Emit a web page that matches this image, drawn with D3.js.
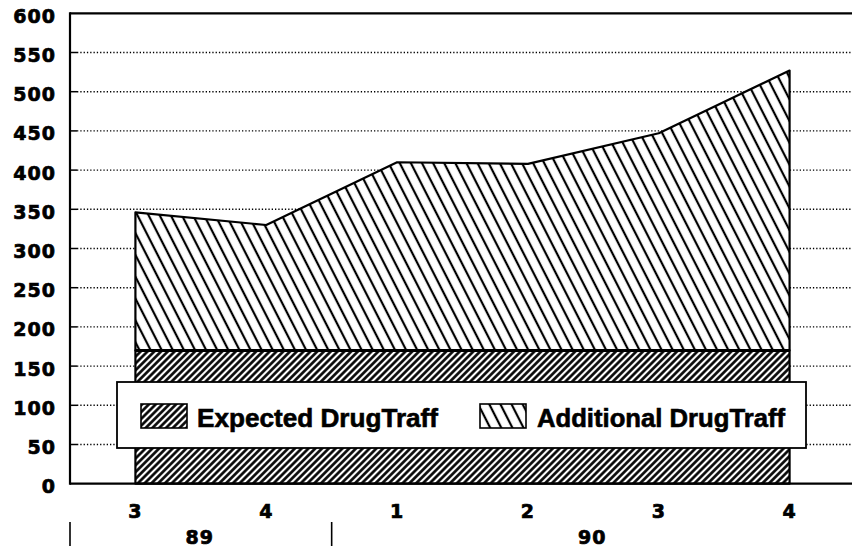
<!DOCTYPE html>
<html>
<head>
<meta charset="utf-8">
<script src="https://cdn.jsdelivr.net/npm/d3@7"></script>
<style>
body{margin:0;background:#fff;}
svg{display:block;}
.tick text{font-family:"DejaVu Sans",sans-serif;font-weight:bold;font-size:19px;fill:#000;letter-spacing:1px;stroke:#000;stroke-width:0.7px;}
.leg text{font-family:"Liberation Sans",Arial,sans-serif;font-weight:bold;font-size:25px;fill:#000;stroke:#000;stroke-width:0.6px;}
</style>
</head>
<body>
<script>
// data
var quarters=["3","4","1","2","3","4"];
var years=["89","90"];
var yearSpan=[2,4];
var expected=[170,170,170,170,170,170];
var additional=[176,160,240,238,277,357];
var yTicks=d3.range(0,601,50);
var seriesNames=["Expected DrugTraff","Additional DrugTraff"];

var width=852,height=547;
var mLeft=70,mRight=855,mTop=13.3,mBottom=483.7;

var svg=d3.select("body").append("svg")
    .attr("width",width)
    .attr("height",height);

var defs=svg.append("defs");
function hatch(id,angle,gap,sw){
    var p=defs.append("pattern")
        .attr("id",id)
        .attr("patternUnits","userSpaceOnUse")
        .attr("width",gap).attr("height",gap)
        .attr("patternTransform","rotate("+angle+")");
    p.append("rect").attr("width",gap).attr("height",gap).attr("fill","#fff");
    p.append("line").attr("x1",gap/2).attr("x2",gap/2).attr("y1",-1).attr("y2",gap+1)
        .attr("stroke","#000").attr("stroke-width",sw);
}
hatch("hExp",45,4.8,2.6);
hatch("hAdd",-27,9.9,2.2);

var rows=quarters.map(function(q,i){return {i:i,exp:expected[i],add:additional[i]};});
var keys=["exp","add"];
var stack=d3.stack().keys(keys)(rows);

var x=d3.scaleBand().domain(d3.range(quarters.length)).range([mLeft,mRight]).padding(0);
var xc=function(i){return x(i)+x.bandwidth()/2;};
var y=d3.scaleLinear().domain([0,600]).range([mBottom,mTop]);

// grid
var inner=yTicks.filter(function(d){return d>0&&d<600;});
var grid=svg.append("g");
grid.selectAll("line.dot").data(inner)
  .enter().append("line")
    .attr("x1",mLeft+7).attr("x2",width)
    .attr("y1",function(d){return y(d);}).attr("y2",function(d){return y(d);})
    .attr("stroke","#000").attr("stroke-width",1.4).attr("stroke-dasharray","1.3,2");
grid.selectAll("line.tk").data(inner)
  .enter().append("line")
    .attr("x1",mLeft).attr("x2",mLeft+7)
    .attr("y1",function(d){return y(d);}).attr("y2",function(d){return y(d);})
    .attr("stroke","#000").attr("stroke-width",1.5);

// areas
var area=d3.area()
    .x(function(d){return xc(d.data.i);})
    .y0(function(d){return y(d[0]);})
    .y1(function(d){return y(d[1]);});
var fills=["url(#hExp)","url(#hAdd)"];
svg.selectAll("path.layer").data(stack).enter().append("path")
    .attr("d",area)
    .attr("fill",function(d,i){return fills[i];})
    .attr("stroke","#000")
    .attr("stroke-width",2.2)
    .attr("stroke-linejoin","round");
// boundary between layers
svg.append("path")
    .attr("d",d3.line().x(function(d){return xc(d.data.i);}).y(function(d){return y(d[1]);})(stack[0]))
    .attr("stroke","#000").attr("stroke-width",3).attr("fill","none");

// frame
svg.append("line").attr("x1",mLeft).attr("x2",width).attr("y1",mTop).attr("y2",mTop)
    .attr("stroke","#000").attr("stroke-width",2.2);
svg.append("line").attr("x1",mLeft).attr("x2",width).attr("y1",mBottom).attr("y2",mBottom)
    .attr("stroke","#000").attr("stroke-width",2.2);
svg.append("line").attr("x1",mLeft).attr("x2",mLeft).attr("y1",mTop-1).attr("y2",mBottom+1)
    .attr("stroke","#000").attr("stroke-width",2.2);

// y axis
var yAxis=svg.append("g")
    .attr("transform","translate("+(mLeft-14)+",0)")
    .call(d3.axisLeft(y).tickValues(yTicks).tickSize(0).tickPadding(0));
yAxis.select(".domain").remove();
yAxis.selectAll("text").attr("dy","0.47em");

// x axis
var xAxis=svg.append("g")
    .attr("transform","translate(0,"+mBottom+")")
    .call(d3.axisBottom(x).tickSize(0).tickFormat(function(i){return quarters[i];}));
xAxis.select(".domain").remove();
xAxis.selectAll("text").attr("y",34).attr("dy",0);

// year groups
var start=0;
years.forEach(function(yr,k){
    var x0=x(start);
    var x1=x(start+yearSpan[k]-1)+x.bandwidth();
    svg.append("line").attr("x1",x0).attr("x2",x0).attr("y1",522).attr("y2",546)
        .attr("stroke","#000").attr("stroke-width",1.6);
    svg.append("g").attr("class","tick").append("text")
        .attr("x",(x0+x1)/2-1).attr("y",544)
        .attr("text-anchor","middle").text(yr);
    start+=yearSpan[k];
});

// legend
var leg=svg.append("g").attr("class","leg");
leg.append("rect").attr("x",117).attr("y",382).attr("width",689).attr("height",66)
    .attr("fill","#fff").attr("stroke","#000").attr("stroke-width",1.8);
var legX=[141,480],legTextX=[197,537],legTextW=[241,248];
seriesNames.forEach(function(n,i){
    leg.append("rect").attr("x",legX[i]).attr("y",404).attr("width",46).attr("height",24)
        .attr("fill",fills[i]).attr("stroke","#000").attr("stroke-width",1.6);
    leg.append("text").attr("x",legTextX[i]).attr("y",427)
        .attr("textLength",legTextW[i]).attr("lengthAdjust","spacingAndGlyphs")
        .text(n);
});
</script>
</body>
</html>
